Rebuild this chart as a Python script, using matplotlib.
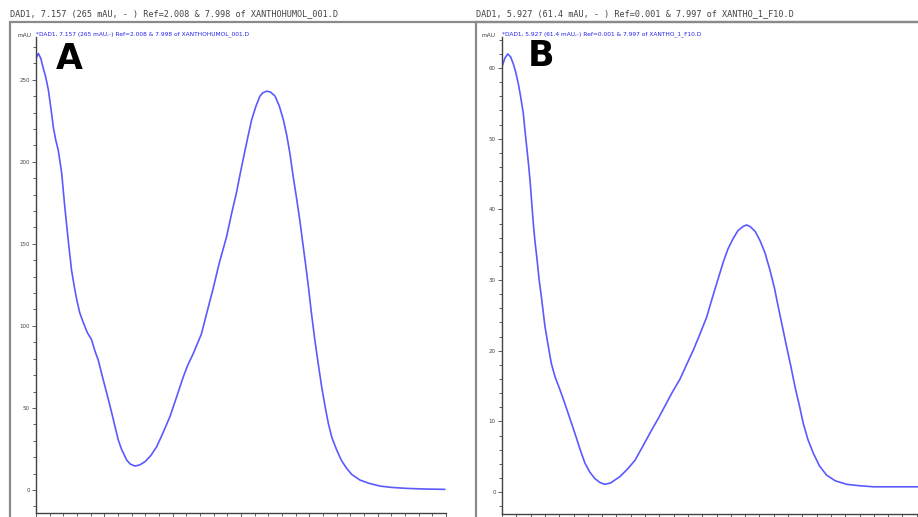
import matplotlib
matplotlib.use("Agg")
import matplotlib.pyplot as plt
from matplotlib.patches import Rectangle
from matplotlib.ticker import MultipleLocator

# ---- data (wavelength nm, absorbance mAU) ----
wl_a = [200, 201.7, 203.5, 205, 207, 209, 211, 212.7, 214.5, 216.3, 218.8, 221, 223.6,
        226, 228, 229.8, 232, 234.6, 237.5, 240.7, 243, 245.6, 248, 250.5, 253, 255.4,
        258, 260.2, 262.5, 266.3, 269, 272.4, 276, 279.8, 284, 288.3, 293, 298, 303,
        307.8, 311, 315, 318, 321, 325, 329.7, 334, 339.5, 343, 346.9, 349, 351.7, 355,
        357.8, 361, 363.9, 366, 368.8, 371.5, 374.9, 378, 381, 383.5, 385.8, 388, 390.8,
        393, 395.6, 397.5, 399.3, 401.5, 404, 406.5, 409, 411.5, 413.9, 416.5, 420,
        423.5, 427.3, 431, 437, 444, 451.7, 460, 471, 485, 499]
mau_a = [263, 266, 263, 258, 252, 244, 232, 221, 213, 207, 193, 173, 152,
         134, 124, 116, 108, 102, 96, 91.5, 85, 79, 71, 63, 55, 47,
         38, 30.5, 25, 18.3, 15.8, 14.6, 15.3, 17.3, 21, 26.4, 35, 44.7, 57,
         69, 76, 83, 89, 95, 108, 123, 138, 154.5, 168, 182, 191, 202, 215,
         225.6, 234, 240, 242, 243, 242.5, 240, 234, 225.6, 216, 205, 192, 177,
         164.5, 148, 136, 124, 108, 91.5, 77, 63, 51, 40.6, 32, 24.4,
         18, 13.2, 9.5, 6.1, 4, 2.4, 1.6, 1, 0.6, 0.4]

wl_b = [200, 202, 204, 206, 207.9, 209.5, 211.4, 213, 214.9, 216, 217.3, 218.5, 219.6,
        221.9, 223, 224.3, 226, 227.8, 230, 232.4, 234.5, 237.1, 240.5, 244, 247.5, 251,
        254.5, 258, 261.5, 265, 268.5, 272, 276, 282.5, 287.5, 293, 298.5, 304.7, 309.5,
        314, 319, 324.5, 329, 333.8, 338.5, 343.2, 346.5, 350.1, 354.8, 358, 361.7, 365,
        368.7, 371, 373.4, 377, 380.4, 384, 387.4, 390.5, 393.2, 396, 399, 402, 404.9,
        408, 410.7, 414, 417.7, 422, 427, 433, 441, 450, 459.7, 487.6, 500]
mau_b = [60.2, 61.4, 62, 61.6, 60.6, 59.5, 57.8, 56, 53.6, 51.3, 48.8, 46.5, 44.1,
         38, 35.6, 33.3, 30, 27.2, 23.5, 20.6, 18.2, 16.3, 14.5, 12.5, 10.4, 8.3,
         6.1, 4.1, 2.8, 1.9, 1.35, 1.1, 1.3, 2.2, 3.2, 4.5, 6.5, 8.8, 10.5,
         12.2, 14.1, 16.0, 18, 20.1, 22.4, 24.8, 27.1, 29.5, 32.6, 34.4, 35.9, 37,
         37.6, 37.8, 37.6, 36.9, 35.6, 33.8, 31.4, 28.9, 26.2, 23.5, 20.6, 17.8, 14.9,
         12.2, 9.7, 7.4, 5.5, 3.7, 2.4, 1.6, 1.1, 0.9, 0.75, 0.75, 0.75]

header_a = "DAD1, 7.157 (265 mAU, - ) Ref=2.008 & 7.998 of XANTHOHUMOL_001.D"
legend_a = "*DAD1, 7.157 (265 mAU,-) Ref=2.008 & 7.998 of XANTHOHUMOL_001.D"
header_b = "DAD1, 5.927 (61.4 mAU, - ) Ref=0.001 & 7.997 of XANTHO_1_F10.D"
legend_b = "*DAD1, 5.927 (61.4 mAU,-) Ref=0.001 & 7.997 of XANTHO_1_F10.D"

W, H = 918, 517
fig = plt.figure(figsize=(W / 100, H / 100), dpi=100)
fig.patch.set_facecolor("white")

LINE = "#5a5aff"
AX = "#444444"


def px_box(x0, y0, x1, y1):
    return [x0 / W, 1 - y1 / H, (x1 - x0) / W, (y1 - y0) / H]


def panel(ax_px, box_left, wl, mau, ylim, ymaj, ymin_, header, legend, hx, letter, lx, ly, mx):
    # outer gray frame
    fig.add_artist(Rectangle((box_left / W, -0.05), 1.2, 1 - 22 / H + 0.05,
                             transform=fig.transFigure, fill=False,
                             edgecolor="#8a8a8a", linewidth=1.6, clip_on=False))
    fig.text(hx / W, 1 - 16 / H, header, fontsize=6.1, family="DejaVu Sans Mono",
             color="#444444", va="baseline", ha="left")
    ax = fig.add_axes(px_box(*ax_px))
    ax.set_facecolor("none")
    ax.plot(wl, mau, color=LINE, linewidth=1.2, solid_joinstyle="round")
    ax.set_xlim(200, 500)
    ax.set_ylim(*ylim)
    ax.xaxis.set_major_locator(MultipleLocator(50))
    ax.xaxis.set_minor_locator(MultipleLocator(10))
    ax.yaxis.set_major_locator(MultipleLocator(ymaj))
    ax.yaxis.set_minor_locator(MultipleLocator(ymin_))
    for s in ("top", "right"):
        ax.spines[s].set_visible(False)
    for s in ("left", "bottom"):
        ax.spines[s].set_color(AX)
        ax.spines[s].set_linewidth(1.0)
    ax.tick_params(which="major", length=3, width=0.6, color=AX, labelsize=4,
                   labelcolor="#444444", pad=1.5)
    ax.tick_params(axis="x", which="major", pad=0.5)
    ax.tick_params(which="minor", length=2, width=0.6, color=AX)
    ax.text(0.0, 1.0, legend, transform=ax.transAxes, fontsize=4.2, color="#2222ee",
            ha="left", va="bottom")
    fig.text(mx / W, 1 - 37 / H, "mAU", fontsize=4.2, color="#444444",
             ha="left", va="baseline")
    fig.text(lx / W, 1 - ly / H, letter, fontsize=25, fontweight="bold",
             color="black", ha="left", va="baseline")
    return ax


panel((36, 37, 446, 513), 10, wl_a, mau_a, (-14, 276), 50, 10,
      header_a, legend_a, 10, "A", 56, 69, 17)
panel((502, 37, 931, 514), 476, wl_b, mau_b, (-3.1, 64.4), 10, 2,
      header_b, legend_b, 476, "B", 528, 66, 482)

fig.savefig("out.png", dpi=100, facecolor="white")
